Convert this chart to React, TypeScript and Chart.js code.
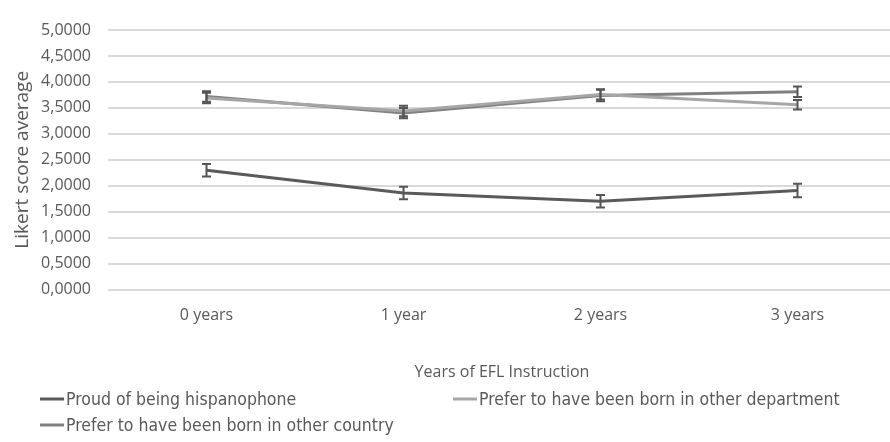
import React, { useEffect, useRef } from "react";
import { Chart, registerables } from "chart.js";

Chart.register(...registerables);

// Years of instruction groups on the x axis
const categories = ["0 years", "1 year", "2 years", "3 years"];

// Mean Likert scores and their error margins, per statement
const proudValues = [2.3, 1.86, 1.7, 1.91];
const proudErrors = [0.12, 0.12, 0.12, 0.13];
const departmentValues = [3.69, 3.44, 3.76, 3.56];
const departmentErrors = [0.1, 0.1, 0.1, 0.09];
const countryValues = [3.72, 3.4, 3.74, 3.81];
const countryErrors = [0.1, 0.1, 0.11, 0.1];

const seriesLabels = [
  "Proud of being hispanophone",
  "Prefer to have been born in other department",
  "Prefer to have been born in other country",
];

const yMin = 0;
const yMax = 5;
const yStep = 0.5;

const TEXT_GRAY = "#595959";
const COLORS = ["#5a5a5a", "#a6a6a6", "#808080"];
const ERROR_COLOR = "#555555";

const formatTick = (v: number) => v.toFixed(4).replace(".", ",");

// Vertical error bars with caps, drawn on top of the lines
const errorBarPlugin = {
  id: "errorBars",
  afterDatasetsDraw(chart: any) {
    const ctx = chart.ctx;
    const yScale = chart.scales.y;
    ctx.save();
    ctx.strokeStyle = ERROR_COLOR;
    ctx.lineWidth = 2;
    chart.data.datasets.forEach((ds: any, i: number) => {
      const meta = chart.getDatasetMeta(i);
      const errs: number[] = ds.errorMargins || [];
      meta.data.forEach((pt: any, j: number) => {
        const v = ds.data[j];
        const e = errs[j] || 0;
        const x = pt.x;
        const yTop = yScale.getPixelForValue(v + e);
        const yBot = yScale.getPixelForValue(v - e);
        const cap = 4.5;
        ctx.beginPath();
        ctx.moveTo(x, yTop);
        ctx.lineTo(x, yBot);
        ctx.moveTo(x - cap, yTop);
        ctx.lineTo(x + cap, yTop);
        ctx.moveTo(x - cap, yBot);
        ctx.lineTo(x + cap, yBot);
        ctx.stroke();
      });
    });
    ctx.restore();
  },
};

// Two-column legend under the axis title
const legendSlots = [
  { x: 40, y: 399 },
  { x: 453, y: 399 },
  { x: 40, y: 425 },
];

const gridLegendPlugin = {
  id: "gridLegend",
  afterDraw(chart: any) {
    const ctx = chart.ctx;
    ctx.save();
    ctx.font = "17.5px 'DejaVu Sans Condensed', 'Liberation Sans Narrow', sans-serif";
    ctx.textBaseline = "middle";
    ctx.textAlign = "left";
    chart.data.datasets.forEach((ds: any, i: number) => {
      const slot = legendSlots[i];
      if (!slot) return;
      ctx.strokeStyle = ds.borderColor;
      ctx.lineWidth = 3;
      ctx.beginPath();
      ctx.moveTo(slot.x, slot.y);
      ctx.lineTo(slot.x + 24, slot.y);
      ctx.stroke();
      ctx.fillStyle = TEXT_GRAY;
      ctx.fillText(ds.label, slot.x + 26, slot.y + 1);
    });
    ctx.restore();
  },
};

export default function App() {
  const canvasRef = useRef<HTMLCanvasElement | null>(null);

  useEffect(() => {
    if (!canvasRef.current) return;
    const makeDataset = (label: string, data: number[], errs: number[], color: string) => ({
      label,
      data,
      errorMargins: errs,
      borderColor: color,
      backgroundColor: color,
      borderWidth: 3,
      pointRadius: 0,
      pointHoverRadius: 0,
      tension: 0,
    });

    const chart = new Chart(canvasRef.current, {
      type: "line",
      data: {
        labels: categories,
        datasets: [
          makeDataset(seriesLabels[0], proudValues, proudErrors, COLORS[0]),
          makeDataset(seriesLabels[1], departmentValues, departmentErrors, COLORS[1]),
          makeDataset(seriesLabels[2], countryValues, countryErrors, COLORS[2]),
        ] as any,
      },
      options: {
        responsive: false,
        animation: false,
        devicePixelRatio: 1,
        layout: { padding: { top: 30, right: 4, bottom: 60, left: 0 } },
        plugins: {
          legend: { display: false },
          tooltip: { enabled: false },
        },
        scales: {
          x: {
            offset: true,
            grid: { display: false, drawTicks: false },
            border: { display: false },
            ticks: {
              color: TEXT_GRAY,
              padding: 16,
              font: { family: "'Open Sans', sans-serif", size: 16 },
            },
            title: {
              display: true,
              text: "Years of EFL Instruction",
              color: TEXT_GRAY,
              font: { family: "'Open Sans', sans-serif", size: 16 },
              padding: { top: 22, bottom: 0 },
            },
          },
          y: {
            min: yMin,
            max: yMax,
            afterFit(scale: any) {
              scale.width = 108;
            },
            grid: { color: "#d9d9d9", lineWidth: 2, drawTicks: false },
            border: { display: false },
            ticks: {
              stepSize: yStep,
              color: TEXT_GRAY,
              padding: 17,
              font: { family: "'Open Sans', sans-serif", size: 16 },
              callback: (v: any) => formatTick(Number(v)),
            },
            title: {
              display: true,
              text: "Likert score average",
              color: TEXT_GRAY,
              font: { family: "'Open Sans', sans-serif", size: 19 },
              padding: { top: 11, bottom: 0 },
            },
          },
        },
      },
      plugins: [errorBarPlugin, gridLegendPlugin],
    });
    return () => chart.destroy();
  }, []);

  return (
    <div
      style={{
        position: "absolute",
        left: 0,
        top: 0,
        width: 890,
        height: 442,
        overflow: "hidden",
        background: "#ffffff",
      }}
    >
      <canvas ref={canvasRef} width={900} height={442} />
    </div>
  );
}
